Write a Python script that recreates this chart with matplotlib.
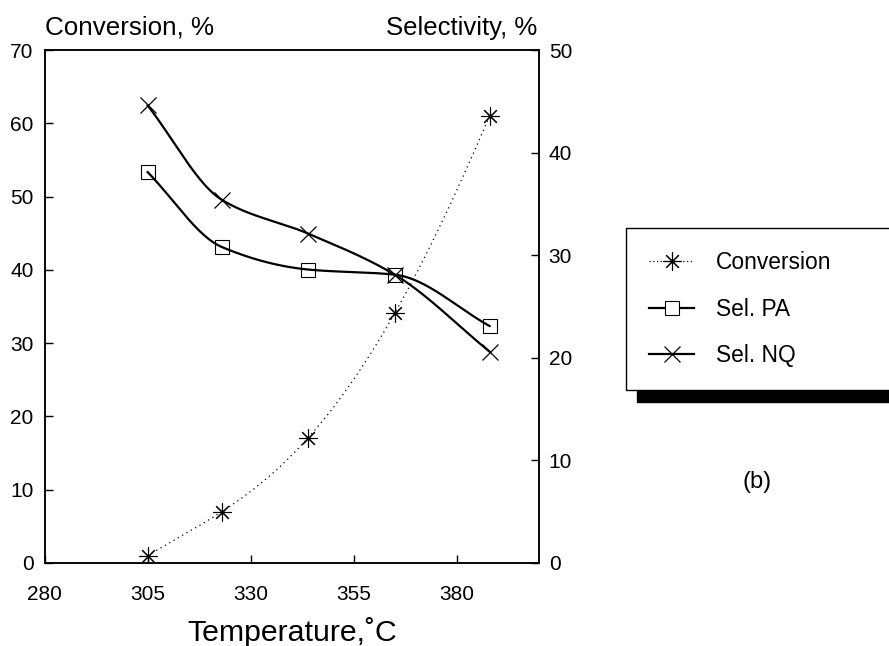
import numpy as np
import matplotlib.pyplot as plt
from matplotlib.lines import Line2D

plt.rcParams["font.family"] = ["Liberation Sans", "DejaVu Sans"]

# =======================
# data
# =======================
temp = [305, 323, 344, 365, 388]
conversion = [1.0, 7.0, 17.1, 34.1, 61.0]     # left axis, %
sel_pa = [38.1, 30.8, 28.6, 28.1, 23.1]        # right axis, %
sel_nq = [44.6, 35.4, 32.1, 28.1, 20.6]        # right axis, %

x_ticks = [280, 305, 330, 355, 380]
conv_ticks = [0, 10, 20, 30, 40, 50, 60, 70]
sel_ticks = [0, 10, 20, 30, 40, 50]


def pchip(x, y, xf):
    # monotone cubic (Fritsch-Carlson) used only to draw the smooth line
    x = np.asarray(x, float)
    y = np.asarray(y, float)
    h = np.diff(x)
    d = np.diff(y) / h
    m = np.zeros_like(y)
    for k in range(1, len(x) - 1):
        if d[k - 1] * d[k] > 0:
            w1 = 2 * h[k] + h[k - 1]
            w2 = h[k] + 2 * h[k - 1]
            m[k] = (w1 + w2) / (w1 / d[k - 1] + w2 / d[k])
    m[0] = d[0]
    m[-1] = d[-1]
    idx = np.clip(np.searchsorted(x, xf) - 1, 0, len(x) - 2)
    t = (xf - x[idx]) / h[idx]
    h00 = 2 * t**3 - 3 * t**2 + 1
    h10 = t**3 - 2 * t**2 + t
    h01 = -2 * t**3 + 3 * t**2
    h11 = t**3 - t**2
    return h00 * y[idx] + h10 * h[idx] * m[idx] + h01 * y[idx + 1] + h11 * h[idx] * m[idx + 1]


t_fine = np.linspace(temp[0], temp[-1], 300)
conv_fit = np.polyval(np.polyfit(temp, conversion, 4), t_fine)
pa_fit = pchip(temp, sel_pa, t_fine)
nq_fit = pchip(temp, sel_nq, t_fine)

# =======================
# figure
# =======================
fig = plt.figure(figsize=(8.89, 6.46), dpi=100)
ax = fig.add_axes([0.0502, 0.1285, 0.5561, 0.7941])
ax2 = ax.twinx()

star = (8, 2, 0)
ax.plot(t_fine, conv_fit, color="black", lw=0.9, dashes=(1, 3))
ax.plot(temp, conversion, ls="none", marker=star, ms=13, mew=0.8, color="black")

ax2.plot(t_fine, pa_fit, color="black", lw=1.6)
ax2.plot(temp, sel_pa, ls="none", marker="s", ms=10, mew=0.8,
         mfc="none", mec="black")
ax2.plot(t_fine, nq_fit, color="black", lw=1.6)
ax2.plot(temp, sel_nq, ls="none", marker="x", ms=11, mew=0.9, color="black")

ax.set_xlim(280, 400)
ax.set_ylim(0, 70)
ax2.set_ylim(0, 50)
ax.set_xticks(x_ticks)
ax.set_yticks(conv_ticks)
ax2.set_yticks(sel_ticks)

for a in (ax, ax2):
    for s in a.spines.values():
        s.set_linewidth(1.1)
ax.tick_params(axis="y", direction="in", length=6, width=1, pad=8, labelsize=15)
ax.tick_params(axis="x", direction="in", length=6, width=1, pad=16, labelsize=15)
ax2.tick_params(axis="y", direction="in", length=6, width=1, pad=7, labelsize=15)

# axis titles
fig.text(45 / 889, 1 - 35 / 646, "Conversion, %", fontsize=18.7, ha="left", va="baseline")
fig.text(537 / 889, 1 - 35 / 646, "Selectivity, %", fontsize=18.5, ha="right", va="baseline")
fig.text(292 / 889, 1 - 641 / 646, "Temperature,˚C", fontsize=21.8, ha="center", va="baseline")
fig.text(757 / 889, 1 - 482 / 646, "(b)", fontsize=17, ha="center", va="center")

# legend with black drop shadow, running off the right edge
handles = [
    Line2D([], [], color="black", lw=0.9, dashes=(1, 2), marker=star, ms=13, mew=0.8),
    Line2D([], [], color="black", lw=1.6, marker="s", ms=10, mew=0.8, mfc="white", mec="black"),
    Line2D([], [], color="black", lw=1.6, marker="x", ms=11, mew=0.9),
]
labels = ["Conversion", "Sel. PA", "Sel. NQ"]
leg = fig.legend(handles, labels, loc="upper left",
                 bbox_to_anchor=(626 / 889, 1 - 228 / 646, 0.36, 0), mode="expand",
                 borderaxespad=0, fontsize=16.4, frameon=True, fancybox=False,
                 edgecolor="black", framealpha=1, borderpad=1.02, labelspacing=1.03,
                 handlelength=1.97, handletextpad=0.96,
                 shadow={"ox": 8, "oy": -8, "color": "black", "alpha": 1})
leg.get_frame().set_linewidth(1.0)

fig.savefig("out.png", dpi=100)
